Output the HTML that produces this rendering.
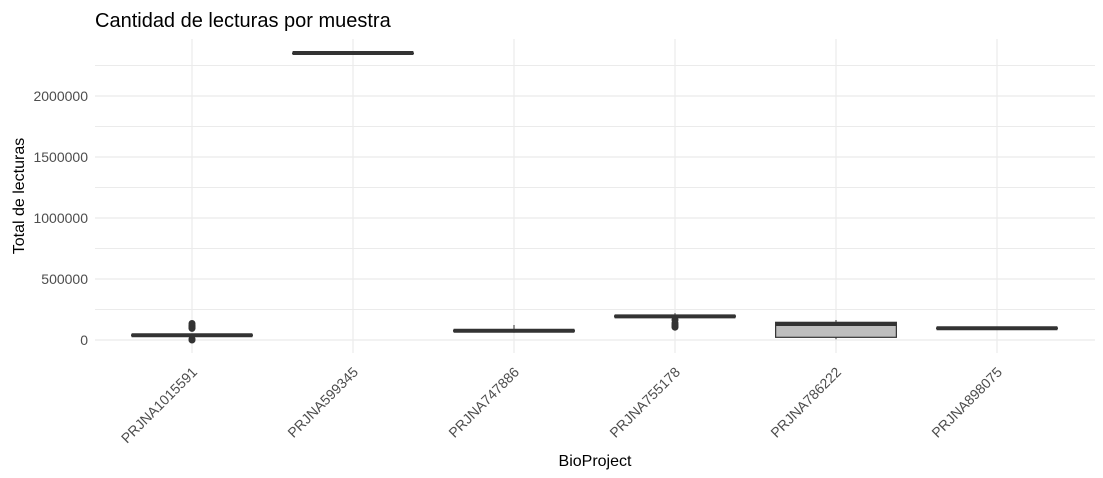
<!DOCTYPE html>
<html><head><meta charset="utf-8"><style>
body{margin:0;background:#fff;font-family:"Liberation Sans",Arial,sans-serif}
svg{display:block}
</style></head><body>
<svg id="chart" width="1103" height="478" xmlns="http://www.w3.org/2000/svg">
<text x="95" y="27" font-size="20" fill="#000">Cantidad de lecturas por muestra</text>
<g id="grid"></g>
<g id="boxes"></g>
<g id="yticks"></g>
<g id="xticks"></g>
<text x="595" y="466" font-size="16" text-anchor="middle" fill="#000">BioProject</text>
<text transform="translate(24,196) rotate(-90)" font-size="16" text-anchor="middle" fill="#000">Total de lecturas</text>
</svg>
<script>
const categories=["PRJNA1015591","PRJNA599345","PRJNA747886","PRJNA755178","PRJNA786222","PRJNA898075"];
const q1=[35000,2352000,72000,190000,22000,93000];
const med=[38500,2352000,76000,194000,131000,96000];
const q3=[42000,2352000,80000,198000,145000,99000];
const whiskLo=[30000,2352000,60000,185000,6000,89000];
const whiskHi=[50000,2352000,123000,220000,164000,103000];
const outliers=[[0,8000,95000,100000,105000,110000,120000,135000],[],[],[105000,115000,125000,140000,165000],[],[]];
const yTicks=[0,500000,1000000,1500000,2000000];
const yTickLabels=["0","500000","1000000","1500000","2000000"];
const yMinor=[250000,750000,1250000,1750000,2250000];
const NS="http://www.w3.org/2000/svg";
const L=95,R=1095,T=39,B=353,step=161,x0=192;
const y=v=>340-v*61/500000;
const x=i=>x0+step*i;
function mk(t,a,p){const e=document.createElementNS(NS,t);for(const k in a)e.setAttribute(k,a[k]);p.appendChild(e);return e;}
const G=document.getElementById('grid'),Bx=document.getElementById('boxes'),YT=document.getElementById('yticks'),XT=document.getElementById('xticks');
yMinor.forEach(v=>{const e=mk('line',{x1:L,x2:R,y1:y(v),y2:y(v),stroke:'#ebebeb','stroke-width':1},G);

});
yTicks.forEach((v,i)=>{const e=mk('line',{x1:L,x2:R,y1:y(v),y2:y(v),stroke:'#ebebeb','stroke-width':1.2},G);


const t=mk('text',{x:88,y:y(v)+5,'text-anchor':'end','font-size':14,fill:'#4d4d4d'},YT);t.textContent=yTickLabels[i];

});
categories.forEach((c,i)=>{const cx=x(i),w=step*0.75;
const g=mk('line',{x1:cx,x2:cx,y1:T,y2:B,stroke:'#ebebeb','stroke-width':1.2},G);


const wl=mk('line',{x1:cx,x2:cx,y1:y(whiskHi[i]),y2:y(whiskLo[i]),stroke:'#333','stroke-width':1},Bx);


const bx=mk('rect',{x:cx-w/2,y:y(q3[i]),width:w,height:Math.max(0.5,y(q1[i])-y(q3[i])),fill:'#bebebe',stroke:'#333','stroke-width':1.2},Bx);


const m=mk('line',{x1:cx-w/2,x2:cx+w/2,y1:y(med[i]),y2:y(med[i]),stroke:'#333','stroke-width':4},Bx);


outliers[i].forEach(o=>{const p=mk('circle',{cx:cx,cy:y(o),r:3.5,fill:'#333'},Bx);

});
const t=mk('text',{x:cx+6,y:373,'text-anchor':'end','font-size':14,fill:'#4d4d4d',transform:`rotate(-45 ${cx+6} 373)`},XT);t.textContent=c;

});
</script>
</body></html>
